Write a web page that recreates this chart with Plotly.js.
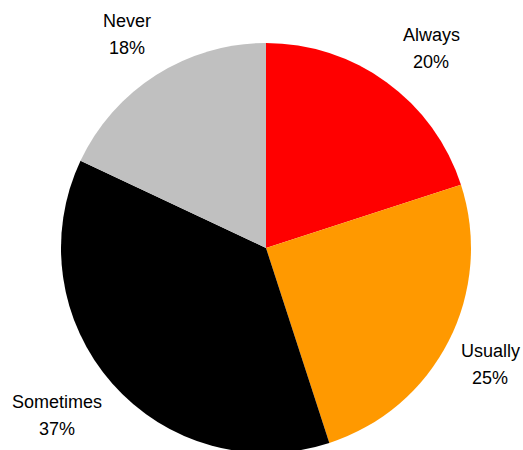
<!DOCTYPE html>
<html>
<head>
<meta charset="utf-8">
<script src="https://cdn.plot.ly/plotly-3.0.1.min.js"></script>
<style>html,body{margin:0;padding:0;background:#fff;overflow:hidden;}#chart{width:523px;height:453px;}</style>
</head>
<body>
<div id="chart"></div>
<script>
const categories = ["Always", "Usually", "Sometimes", "Never"];
const values = [20, 25, 37, 18];
const percentLabels = ["20%", "25%", "37%", "18%"];
const colors = ["#FF0000", "#FF9900", "#000000", "#C0C0C0"];

// label anchor positions in pixels (centre of the two-line label)
const labelPos = [[431, 48], [490, 364], [57, 415], [127, 34]];

const W = 523, H = 453;
const annotations = [];
categories.forEach((c, i) => {
  const [px, py] = labelPos[i];
  annotations.push({
    xref: "paper", yref: "paper",
    x: px / W, y: 1 - (py - 13) / H,
    text: c, showarrow: false, xanchor: "center", yanchor: "middle",
    font: {family: "Liberation Sans, Arial, sans-serif", size: 18, color: "#000"}
  });
  annotations.push({
    xref: "paper", yref: "paper",
    x: px / W, y: 1 - (py + 14) / H,
    text: percentLabels[i], showarrow: false, xanchor: "center", yanchor: "middle",
    font: {family: "Liberation Sans, Arial, sans-serif", size: 18, color: "#000"}
  });
});

const trace = {
  type: "pie",
  labels: categories,
  values: values,
  sort: false,
  direction: "clockwise",
  rotation: 0,
  textinfo: "none",
  hoverinfo: "label+percent",
  marker: {colors: colors, line: {width: 0}},
  domain: {x: [61 / W, 471 / W], y: [0, 1 - 43 / H]},
  showlegend: false
};

Plotly.newPlot("chart", [trace], {
  width: W, height: H,
  margin: {l: 0, r: 0, t: 0, b: 0},
  paper_bgcolor: "#fff",
  showlegend: false,
  annotations: annotations
}, {displayModeBar: false, staticPlot: true});
</script>
</body>
</html>
